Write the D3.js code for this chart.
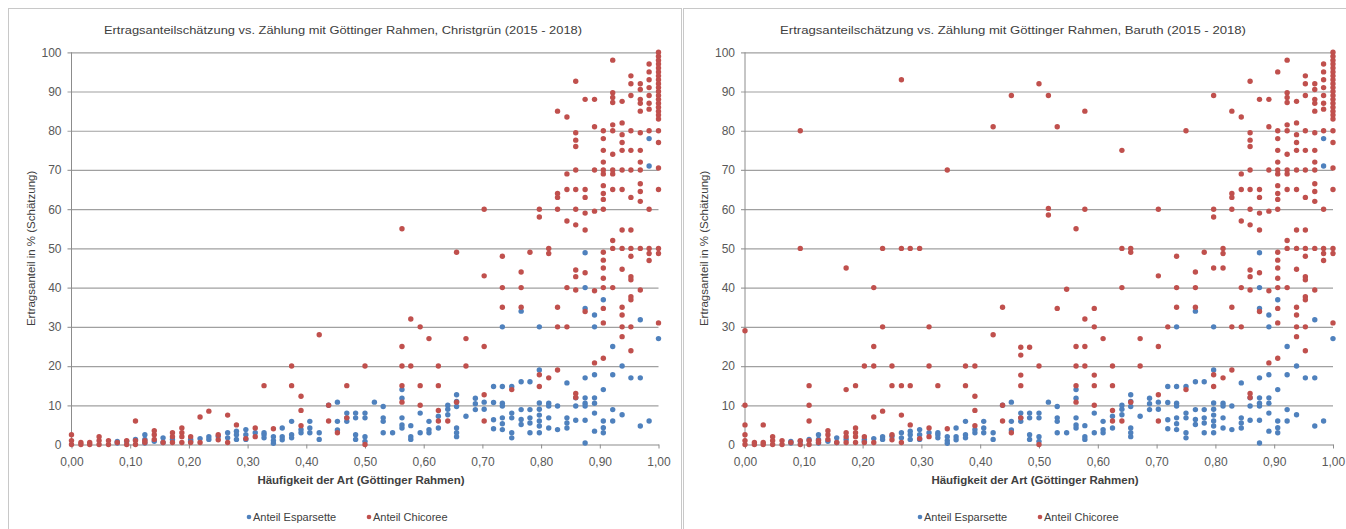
<!DOCTYPE html>
<html><head><meta charset="utf-8">
<script src="https://cdn.jsdelivr.net/npm/d3@7/dist/d3.min.js"></script>
<style>
body{margin:0;background:#fff;}
svg{display:block;font-family:"Liberation Sans",Arial,sans-serif;}
</style>
</head><body>
<svg id="chart" width="1346" height="529"></svg>
<script>
// ---- data ----
const xTicks = [0,0.1,0.2,0.3,0.4,0.5,0.6,0.7,0.8,0.9,1];
const xTickLabels = ["0,00","0,10","0,20","0,30","0,40","0,50","0,60","0,70","0,80","0,90","1,00"];
const yTicks = [0,10,20,30,40,50,60,70,80,90,100];
const titles = [
  "Ertragsanteilschätzung  vs. Zählung mit Göttinger Rahmen, Christgrün (2015 - 2018)",
  "Ertragsanteilschätzung  vs. Zählung mit Göttinger Rahmen, Baruth (2015 - 2018)"
];
const xTitle = "Häufigkeit der Art (Göttinger Rahmen)";
const yTitle = "Ertragsanteil  in % (Schätzung)";
const seriesNames = ["Anteil Esparsette","Anteil Chicoree"];

// [Häufigkeit, [Ertragsanteil values at that Häufigkeit]]
const esparsette = [
 [0.078,[0.8,0.4]],[0.094,[0.8]],[0.109,[1.3]],[0.125,[2.5,1.3,0.4]],[0.141,[0.8]],
 [0.156,[1.7,0.5]],[0.172,[1.3]],[0.203,[1.3,0.8]],[0.219,[1.5]],[0.234,[2,1.3]],
 [0.25,[2.1]],[0.266,[3,1.7]],[0.281,[3.4,2.5,1.3]],[0.297,[3.8,2.5,1.3]],[0.313,[3]],
 [0.328,[3,2.5,1.7]],[0.344,[2,1,0.3]],[0.359,[4.2,2,1.2]],[0.375,[5.9,2.5,1.7]],
 [0.391,[3.8,3]],[0.406,[5.9,4.2,3]],[0.422,[3,1.3]],[0.438,[10]],[0.453,[10.8,5.9,3.7]],
 [0.469,[8,6.8,5.9]],[0.484,[8,6.8,2.5,1.3]],[0.5,[8,6.8,2,0.8]],[0.516,[10.8]],
 [0.531,[9.7,6.8,5.9,3]],[0.547,[3]],[0.563,[14,11.8,6.8,5,4.2]],[0.578,[4.8,2,1.3]],
 [0.594,[8,3]],[0.609,[5.9,3.8,3]],[0.625,[7.2,4.2]],[0.641,[10,9,7.6]],
 [0.656,[12.7,11,9.7,4.2,3,2]],[0.672,[7.2]],[0.688,[11.8,10.4,8.9]],[0.703,[10.8,9]],
 [0.719,[14.8,10.7,6.3,4]],[0.734,[30,14.8,10.5,9.8,6.8,5.3,3.8]],[0.75,[14.8,8,6.8,3,1.7]],
 [0.766,[34,16,8.9,6.4,5.1]],[0.781,[16,8.9,6.8,5.5,3]],[0.797,[30,19,10.6,9,7.5,6,4.7,3]],
 [0.813,[10.5,9.8,6.8,4.2]],[0.828,[9.8,3.8]],[0.844,[15.7,6.8,5.5,4.2]],[0.859,[11.9,9.8,6.2]],
 [0.875,[48.9,40,34.7,17,11.9,10.5,9.8,6.2,0.4]],[0.891,[33,30,17.8,11.9,10.5,8,3.4]],
 [0.906,[36.9,14,6,4.3,3]],[0.922,[25,17.8,8.9,6]],[0.938,[20,7.6]],[0.953,[17]],
 [0.969,[31.8,17,4.7]],[0.984,[78,71,6]],[1,[27]]
];

const chicoreeChristgruen = [
 [0,[2.5,1,0]],[0.016,[0.5,0]],[0.031,[0.5,0]],[0.047,[2,1,0]],[0.063,[1,0]],[0.078,[0.5]],
 [0.094,[1,0]],[0.109,[6,1,0]],[0.125,[1,0.5]],[0.141,[3.5,2.5,1.3]],[0.156,[0.5]],
 [0.172,[3,2,0.5]],[0.188,[4.2,3,2,0.5]],[0.203,[2,0.5]],[0.219,[7,0.5]],[0.234,[8.5]],
 [0.25,[2.5,1.2]],[0.266,[7.5,0.5]],[0.281,[5]],[0.297,[1.5]],[0.313,[4.2,2]],[0.328,[15]],
 [0.344,[4]],[0.375,[20,15]],[0.391,[12.3,8.7,4.8]],[0.422,[28]],[0.438,[10,6]],[0.453,[3]],
 [0.469,[15,6.8]],[0.5,[20,0]],[0.563,[55,25,20,15,10.8]],[0.578,[32,20]],[0.594,[30,15,10]],
 [0.609,[27]],[0.625,[20,15,8.7,6]],[0.641,[6]],[0.656,[49,10.8]],[0.672,[27,20]],
 [0.703,[60,43,25,12.7,6]],[0.734,[48,40,35]],[0.75,[14]],[0.766,[44,40,35]],[0.781,[49]],
 [0.797,[60,58,17.8,14.8]],[0.813,[50,48.7,17]],[0.828,[85,64,63,60,35,30,19]],
 [0.844,[83.5,69,65,57,40,30]],
 [0.859,[92.6,79.5,77.6,76,70,65,60,56,44.5,42.8,39.4,13,12]],
 [0.875,[88,65,63,59,54.7,43.8,33.9]],
 [0.891,[88,81,70,59.5,39.2,20.8]],
 [0.906,[80,78,75,72,70,69,66,64,62.5,60,49,47,45,42.4,40,34.7,31,22]],
 [0.922,[98,89.7,88.5,87.2,81.5,80,74,70,69,65,52,50,40]],
 [0.938,[87.5,82,79,77,75,70,65,54.7,50,44.7,35,33,30,27.5]],
 [0.953,[94,92,89,80,75,70,63,54.7,50,48,42.8,42,37.7,36.9,30,23.9]],
 [0.969,[92,90.5,88,87,85,79.5,75,72,70,66.5,64.5,62,50,39.4]],
 [0.984,[97,95,93,91,89,87,85.5,80,60,50,48.7,46.9]],
 [1,[100,99,98,97,96,95,94,93,92,91,90,89,88,87,86,85,84,83,80,77,70.5,65,50,48.7,31]]
];

// additional Chicoree points visible only in the Baruth chart
const chicoreeBaruthExtra = [
 [0,[29,10,5]],[0.031,[5]],[0.094,[80,50]],[0.109,[15,10]],[0.172,[45,14]],[0.188,[15]],
 [0.203,[20]],[0.219,[40,25,20]],[0.234,[50,30]],[0.25,[20,15]],[0.266,[93,50,15]],
 [0.281,[50,15]],[0.297,[50]],[0.313,[30,20]],[0.344,[70]],[0.391,[20]],[0.422,[81]],
 [0.438,[35]],[0.453,[89]],[0.469,[24.8,22.8,17.7]],[0.484,[24.8]],[0.5,[92]],
 [0.516,[89,60.2,58.5]],[0.531,[81,34.7]],[0.547,[39.6]],[0.578,[85,60,25]],
 [0.594,[34.7,17.7]],[0.641,[75,50,40]],[0.656,[50]],[0.719,[30]],[0.75,[80]],
 [0.797,[89,45]],[0.813,[45]],[0.906,[95]]
];

const colors = {esp:"#4f81bd", chi:"#c0504d"};

const panels = [
  {frame:[8.5,8.5,673,540], x0:71.5, x1:658.5, titleCx:343, titleLen:478, legendX:249,
   esp:esparsette, chi:chicoreeChristgruen, title:titles[0]},
  {frame:[683.5,8.5,680,540], x0:745, x1:1333, titleCx:1013, titleLen:466, legendX:920,
   esp:esparsette, chi:chicoreeChristgruen.concat(chicoreeBaruthExtra), title:titles[1]}
];

const svg = d3.select("#chart");
const yTop = 52.3, yBot = 444.5;
const flat = s => s.flatMap(([x, ys]) => ys.map(y => ({x, y})));
const FONT = "'Liberation Sans',Arial,sans-serif";

panels.forEach(p => {
  const g = svg.append("g");
  g.append("rect").attr("x",p.frame[0]).attr("y",p.frame[1]).attr("width",p.frame[2]).attr("height",p.frame[3])
    .attr("fill","#fff").attr("stroke","#c8c8c8").attr("stroke-width",1);

  const x = d3.scaleLinear().domain([0,1]).range([p.x0, p.x1]);
  const y = d3.scaleLinear().domain([0,100]).range([yBot, yTop]);
  const w = p.x1 - p.x0;

  // y axis with gridlines
  const ya = g.append("g").attr("transform",`translate(${p.x0-4},0)`)
    .call(d3.axisLeft(y).tickValues(yTicks).tickSize(-(w+4)).tickPadding(6));
  ya.select(".domain").remove();
  ya.selectAll(".tick line").attr("stroke", d => d===0 ? "none" : "#a0a0a0").attr("stroke-width",1.2);
  ya.selectAll(".tick text").attr("fill","#595959").attr("font-size","12px").attr("font-family",FONT);

  // y axis line
  g.append("line").attr("x1",p.x0).attr("x2",p.x0).attr("y1",yTop).attr("y2",yBot)
    .attr("stroke","#8c8c8c").attr("stroke-width",1);

  // x axis
  const xa = g.append("g").attr("transform",`translate(0,${yBot})`)
    .call(d3.axisBottom(x).tickValues(xTicks).tickFormat((d,i)=>xTickLabels[i]).tickSize(4).tickPadding(9).tickSizeOuter(0));
  xa.select(".domain").attr("stroke","#8c8c8c").attr("stroke-width",1.2);
  xa.selectAll(".tick line").attr("stroke","#8c8c8c");
  xa.selectAll(".tick text").attr("fill","#595959").attr("font-size","12px").attr("font-family",FONT);

  // points
  g.append("g").selectAll("circle").data(flat(p.esp)).join("circle")
    .attr("cx", d => x(d.x)).attr("cy", d => y(d.y)).attr("r", 2.7).attr("fill", colors.esp);
  g.append("g").selectAll("circle").data(flat(p.chi)).join("circle")
    .attr("cx", d => x(d.x)).attr("cy", d => y(d.y)).attr("r", 2.7).attr("fill", colors.chi);

  // title
  g.append("text").attr("x",p.titleCx).attr("y",34).attr("text-anchor","middle")
    .attr("font-size","11.5px").attr("fill","#404040")
    .attr("textLength",p.titleLen).attr("lengthAdjust","spacingAndGlyphs").text(p.title);

  // x title
  g.append("text").attr("x",(p.x0+p.x1)/2 - 4).attr("y",484).attr("text-anchor","middle")
    .attr("font-size","11.5px").attr("font-weight","bold").attr("fill","#404040").text(xTitle);

  // y title
  g.append("text").attr("transform",`translate(${p.x0-37},${(yTop+yBot)/2}) rotate(-90)`)
    .attr("text-anchor","middle").attr("font-size","11.5px").attr("fill","#404040").text(yTitle);

  // legend
  const lg = g.append("g").attr("transform",`translate(${p.legendX},517)`);
  [colors.esp, colors.chi].forEach((c,i) => {
    const gx = i*120;
    lg.append("circle").attr("cx",gx).attr("cy",0).attr("r",2.3).attr("fill",c);
    lg.append("text").attr("x",gx+4).attr("y",3.8).attr("font-size","11px").attr("fill","#404040").text(seriesNames[i]);
  });
});
</script>
</body></html>
